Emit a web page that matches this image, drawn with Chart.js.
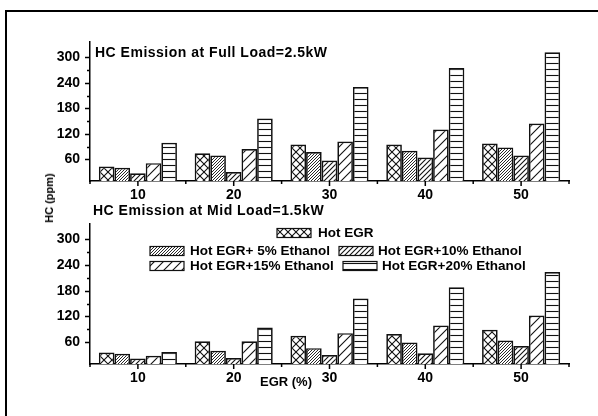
<!DOCTYPE html>
<html>
<head>
<meta charset="utf-8">
<script src="https://cdn.jsdelivr.net/npm/chart.js@4"></script>
<style>
  body { margin: 0; background: #fff; }
  #wrap { position: relative; width: 598px; height: 416px; overflow: hidden; font-family: "Liberation Sans", Arial, sans-serif; }
  #frame { position: absolute; left: 5px; top: 10px; width: 700px; height: 500px; border-left: 2px solid #000; border-top: 2px solid #000; }
  canvas { position: absolute; left: 0; }
  #ytitle { position: absolute; left: 49px; top: 198px; transform: translate(-50%, -50%) rotate(-90deg); font: bold 11px "Liberation Sans", Arial, sans-serif; white-space: nowrap; }
</style>
</head>
<body>
<div id="wrap">
  <div id="frame"></div>
  <canvas id="fullChart" width="598" height="200" style="top:0"></canvas>
  <canvas id="midChart" width="598" height="216" style="top:200px"></canvas>
  <div id="ytitle">HC (ppm)</div>
</div>
<script>
// EGR rates (x axis)
var egr = ["10", "20", "30", "40", "50"];
var seriesNames = ["Hot EGR", "Hot EGR+ 5% Ethanol", "Hot EGR+10% Ethanol", "Hot EGR+15% Ethanol", "Hot EGR+20% Ethanol"];

// HC emission at full load = 2.5kW (ppm)
var hotEgrFull = [43, 74, 95, 95, 97];
var eth5Full = [40, 69, 77, 80, 88];
var eth10Full = [27, 30, 57, 64, 69];
var eth15Full = [51, 84, 102, 130, 144];
var eth20Full = [99, 156, 230, 275, 312];

// HC emission at mid load = 1.5kW (ppm)
var hotEgrMid = [36, 62, 75, 79, 89];
var eth5Mid = [33, 40, 46, 59, 64];
var eth10Mid = [22, 23, 30, 34, 51];
var eth15Mid = [28, 62, 81, 99, 122];
var eth20Mid = [37, 94, 162, 188, 224];

var FONT = '"Liberation Sans", Arial, sans-serif';

// hatch fills
function diag(ctx, s) {
  ctx.beginPath();
  ctx.moveTo(0, s); ctx.lineTo(s, 0);
  ctx.moveTo(-1, 1); ctx.lineTo(1, -1);
  ctx.moveTo(s - 1, s + 1); ctx.lineTo(s + 1, s - 1);
  ctx.stroke();
}
function makePattern(kind) {
  var s = kind == "cross" ? 8 : kind == "d3" ? 3 : kind == "d5" ? 5 : kind == "d9" ? 9 : 6;
  var c = document.createElement("canvas");
  c.width = s; c.height = s;
  var ctx = c.getContext("2d");
  ctx.fillStyle = "#fff";
  ctx.fillRect(0, 0, s, s);
  ctx.strokeStyle = "#111";
  ctx.lineWidth = kind == "d3" ? 0.9 : 1.1;
  if (kind == "cross") {
    diag(ctx, s);
    ctx.beginPath();
    ctx.moveTo(0, 0); ctx.lineTo(s, s);
    ctx.moveTo(-1, s - 1); ctx.lineTo(1, s + 1);
    ctx.moveTo(s - 1, -1); ctx.lineTo(s + 1, 1);
    ctx.stroke();
  } else if (kind == "horiz") {
    ctx.beginPath();
    ctx.moveTo(0, 3.5); ctx.lineTo(s, 3.5);
    ctx.stroke();
  } else {
    diag(ctx, s);
  }
  return ctx.createPattern(c, "repeat");
}
var fills = ["cross", "d3", "d5", "d9", "horiz"].map(function (k) { return makePattern(k); });

function makeDatasets(lists) {
  return lists.map(function (vals, i) {
    return {
      label: seriesNames[i],
      data: vals,
      backgroundColor: fills[i],
      borderColor: "#111",
      borderWidth: 1.7,
      borderSkipped: "bottom",
      categoryPercentage: 0.815,
      barPercentage: 1.0
    };
  });
}

// tick marks drawn on the scales (long at labels, short in between)
var axisTicks = {
  id: "axisTicks",
  afterDraw: function (chart) {
    var ctx = chart.ctx, x = chart.scales.x, y = chart.scales.y;
    ctx.save();
    ctx.strokeStyle = "#000";
    ctx.lineWidth = 1.5;
    ctx.beginPath();
    y.ticks.forEach(function (t) {
      if (t.value % 30 != 0) return;
      var py = Math.round(y.getPixelForValue(t.value)) + 0.5;
      var len = t.value % 60 == 0 ? 5 : 3;
      ctx.moveTo(y.right - len, py); ctx.lineTo(y.right, py);
    });
    var centers = egr.map(function (_, i) { return x.getPixelForValue(i); });
    centers.forEach(function (px) {
      ctx.moveTo(px, x.top); ctx.lineTo(px, x.top + 5);
    });
    var bounds = [x.left];
    for (var i = 1; i < centers.length; i++) bounds.push((centers[i - 1] + centers[i]) / 2);
    bounds.push(x.right);
    bounds.forEach(function (px) {
      ctx.moveTo(px, x.top); ctx.lineTo(px, x.top + 3);
    });
    ctx.stroke();
    ctx.restore();
  }
};

// panel titles and the x title
var panelText = {
  id: "panelText",
  afterDraw: function (chart, args, opts) {
    var ctx = chart.ctx;
    ctx.save();
    ctx.fillStyle = "#000";
    ctx.textBaseline = "middle";
    (opts.items || []).forEach(function (it) {
      ctx.font = "bold " + it[3] + "px " + FONT;
      ctx.letterSpacing = it[4] + "px";
      ctx.fillText(it[0], it[1], it[2]);
    });
    ctx.restore();
  }
};

// legend inside the lower panel
var boxLegend = {
  id: "boxLegend",
  afterDraw: function (chart, args, opts) {
    if (!opts.spots) return;
    var ctx = chart.ctx;
    ctx.save();
    ctx.font = "bold 13.5px " + FONT;
    ctx.textBaseline = "middle";
    chart.data.datasets.forEach(function (ds, i) {
      var sp = opts.spots[i];
      ctx.fillStyle = ds.backgroundColor;
      ctx.fillRect(sp[0], sp[2] - 4.5, 34, 9);
      ctx.strokeStyle = "#111";
      ctx.lineWidth = 1.2;
      ctx.strokeRect(sp[0], sp[2] - 4.5, 34, 9);
      ctx.fillStyle = "#000";
      ctx.fillText(ds.label, sp[1], sp[2]);
    });
    ctx.restore();
  }
};

function makeOptions(topPad, xHeight, texts, spots) {
  return {
    responsive: false,
    animation: false,
    devicePixelRatio: 1,
    layout: { padding: { top: topPad, right: 29, left: 0, bottom: 0 } },
    plugins: {
      legend: { display: false },
      tooltip: { enabled: false },
      panelText: { items: texts },
      boxLegend: { spots: spots }
    },
    scales: {
      x: {
        type: "category",
        offset: true,
        grid: { display: false, drawTicks: false },
        border: { display: true, color: "#000", width: 1.5 },
        ticks: { color: "#000", font: { family: FONT, size: 14, weight: "bold" }, padding: 6, maxRotation: 0 },
        afterFit: function (s) { s.height = xHeight; }
      },
      y: {
        min: 9,
        max: 336,
        grid: { display: false, drawTicks: false },
        border: { display: true, color: "#000", width: 1.5 },
        ticks: {
          stepSize: 30,
          autoSkip: false,
          color: "#000",
          padding: 10,
          font: { family: FONT, size: 14, weight: "bold" },
          callback: function (v) { return v % 60 == 0 && v > 0 ? v : ""; }
        },
        afterFit: function (s) { s.width = 90; }
      }
    }
  };
}

new Chart(document.getElementById("fullChart"), {
  type: "bar",
  data: {
    labels: egr,
    datasets: makeDatasets([hotEgrFull, eth5Full, eth10Full, eth15Full, eth20Full])
  },
  options: makeOptions(42, 19, [["HC Emission at Full Load=2.5kW", 95, 53, 14, 0.5]], null),
  plugins: [axisTicks, panelText, boxLegend]
});

new Chart(document.getElementById("midChart"), {
  type: "bar",
  data: {
    labels: egr,
    datasets: makeDatasets([hotEgrMid, eth5Mid, eth10Mid, eth15Mid, eth20Mid])
  },
  options: makeOptions(24, 52, [["HC Emission at Mid Load=1.5kW", 93, 11, 14, 0.5], ["EGR (%)", 260, 182, 13, 0]],
    [[277, 318, 33], [150, 190, 51], [339, 378, 51], [150, 190, 66], [343, 382, 66]]),
  plugins: [axisTicks, panelText, boxLegend]
});
</script>
</body>
</html>
